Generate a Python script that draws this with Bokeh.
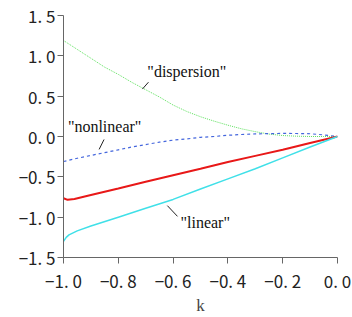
from bokeh.plotting import figure
from bokeh.models import FixedTicker, Label, Range1d
from bokeh.embed import file_html
from bokeh.resources import INLINE

# wave number samples and the frequency branches
k_dispersion = [-1.0, -0.95, -0.9, -0.85, -0.8, -0.75, -0.7, -0.65, -0.6, -0.55, -0.5,
                -0.45, -0.4, -0.35, -0.3, -0.25, -0.2, -0.15, -0.1, -0.05, 0.0]
w_dispersion = [1.19, 1.08, 0.97, 0.86, 0.77, 0.67, 0.58, 0.49, 0.39, 0.31, 0.245,
                0.19, 0.14, 0.095, 0.06, 0.03, 0.012, 0.004, 0.0, 0.0, 0.0]

k_nonlinear = [-1.0, -0.95, -0.9, -0.85, -0.8, -0.75, -0.7, -0.65, -0.6, -0.55, -0.5,
               -0.45, -0.4, -0.35, -0.3, -0.25, -0.2, -0.15, -0.1, -0.05, 0.0]
w_nonlinear = [-0.31, -0.27, -0.235, -0.2, -0.165, -0.13, -0.1, -0.07, -0.045, -0.03, -0.01,
               0.0, 0.015, 0.025, 0.032, 0.036, 0.038, 0.037, 0.034, 0.02, 0.0]

k_total = [-1.0, -0.985, -0.96, -0.9, -0.8, -0.7, -0.6, -0.5, -0.4, -0.3, -0.2, -0.1, 0.0]
w_total = [-0.765, -0.785, -0.775, -0.725, -0.645, -0.56, -0.48, -0.4, -0.315, -0.24, -0.165, -0.08, 0.0]

k_linear = [-1.0, -0.99, -0.98, -0.95, -0.9, -0.8, -0.7, -0.6, -0.5, -0.4, -0.3, -0.2, -0.1, 0.0]
w_linear = [-1.3, -1.25, -1.22, -1.17, -1.11, -1.0, -0.89, -0.78, -0.65, -0.525, -0.4, -0.265, -0.13, 0.0]

x_ticks = [-1.0, -0.8, -0.6, -0.4, -0.2, 0.0]
x_tick_labels = ["\u22121. 0", "\u22120. 8", "\u22120. 6", "\u22120. 4", "\u22120. 2", "0. 0"]
y_ticks = [-1.5, -1.0, -0.5, 0.0, 0.5, 1.0, 1.5]
y_tick_labels = ["\u22121. 5", "\u22121. 0", "\u22120. 5", "0. 0", "0. 5", "1. 0", "1. 5"]

p = figure(width=352, height=317, output_backend="svg", toolbar_location=None,
           x_range=Range1d(-1.0, 0.0), y_range=Range1d(-1.5, 1.5),
           min_border_left=63, min_border_right=15, min_border_top=15, min_border_bottom=56)
p.outline_line_color = None
p.xgrid.visible = False
p.ygrid.visible = False
p.background_fill_color = "white"
p.border_fill_color = "white"

tick_font = "Noto Sans CJK JP"
for ax, ticks, labels in ((p.xaxis[0], x_ticks, x_tick_labels), (p.yaxis[0], y_ticks, y_tick_labels)):
    ax.ticker = FixedTicker(ticks=ticks)
    ax.major_label_overrides = {t: s for t, s in zip(ticks, labels)}
    ax.minor_tick_line_color = None
    ax.axis_line_color = "#666666"
    ax.major_tick_line_color = "#666666"
    ax.major_tick_in = 0
    ax.major_tick_out = 6
    ax.major_label_text_font = tick_font
    ax.major_label_text_font_size = "17px"
    ax.major_label_text_color = "#222222"

p.yaxis.major_label_standoff = 2
p.xaxis.major_label_standoff = 4
p.xaxis.axis_label = "k"
p.xaxis.axis_label_text_font = "Liberation Serif"
p.xaxis.axis_label_text_font_style = "normal"
p.xaxis.axis_label_text_font_size = "17px"
p.xaxis.axis_label_standoff = 0

# curves
p.line(k_dispersion, w_dispersion, line_color="#5fe05f", line_width=1, line_dash="1 1")
p.line(k_nonlinear, w_nonlinear, line_color="#4466dd", line_width=1.2, line_dash="3 3")
p.line(k_total, w_total, line_color="#e81818", line_width=2)
p.line(k_linear, w_linear, line_color="#40e0e8", line_width=1.5)

# curve captions with short leader lines
serif = "Liberation Serif"
for txt, x, y in (('"dispersion"', -0.694, 0.80), ('"nonlinear"', -0.984, 0.12), ('"linear"', -0.573, -1.065)):
    p.add_layout(Label(x=x, y=y, text=txt, text_font=serif, text_font_size="16px",
                       text_baseline="middle", text_align="left", text_color="#111111"))

p.segment(x0=[-0.712, -0.870, -0.621], y0=[0.588, -0.16, -0.857],
          x1=[-0.690, -0.852, -0.584], y1=[0.673, -0.037, -0.99],
          line_color="#222222", line_width=1)

p.add_layout(Label(x=-1.0, y=0.0, x_offset=-58, text="\u03c9", text_font="DejaVu Sans",
                   text_font_size="17px", text_baseline="middle", text_align="left",
                   text_color="#222222"))

open("out.html", "w").write(file_html(p, INLINE))
